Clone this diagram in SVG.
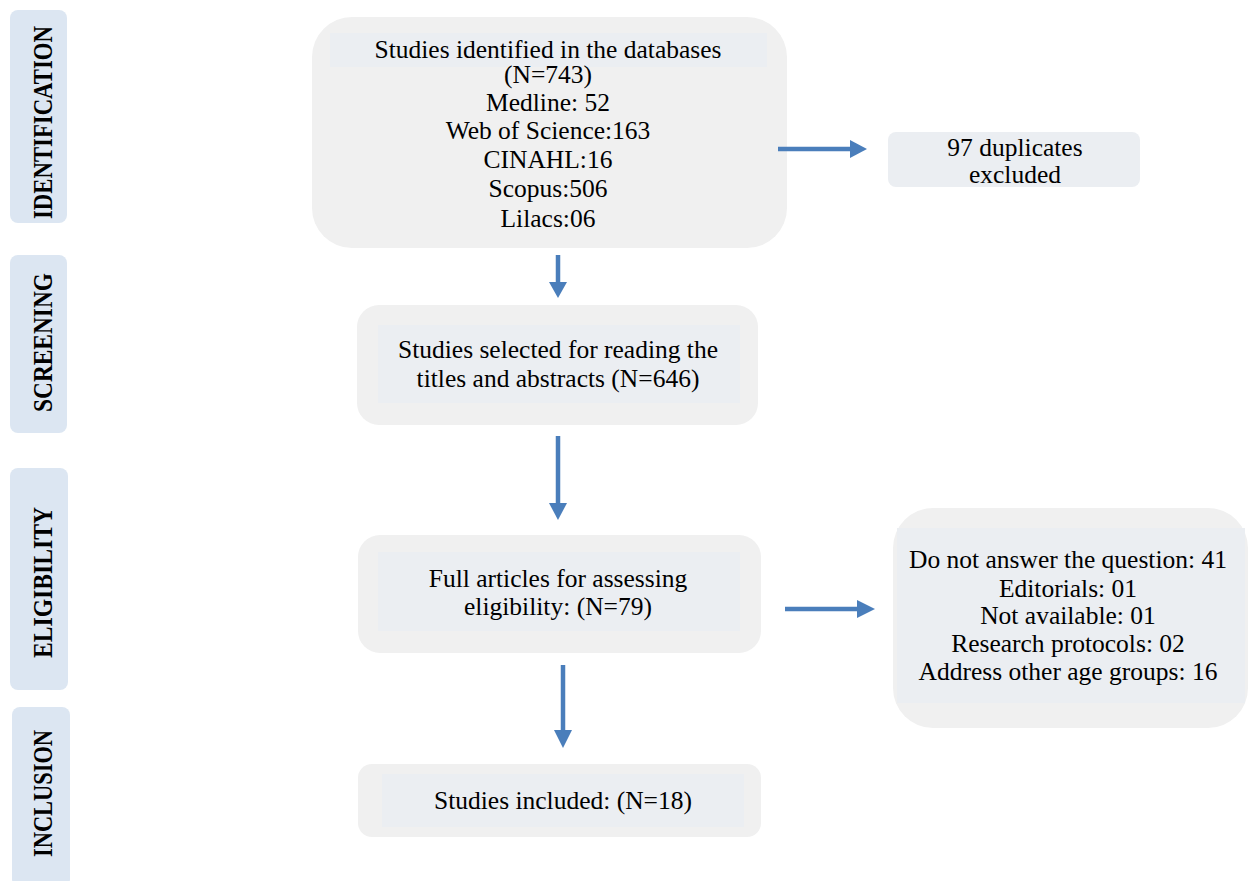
<svg xmlns="http://www.w3.org/2000/svg" width="1249" height="881" viewBox="0 0 1249 881">
<style>
.phase{fill:#dce6f2;}
.phtxt{font-family:"Liberation Serif","Times New Roman",Times,serif;font-weight:bold;font-size:28px;fill:#000;}
.outer{fill:#f0f0f0;}
.inner{fill:#ebeef2;}
.t{font-family:"Liberation Serif","Times New Roman",Times,serif;font-size:25.5px;fill:#000;text-anchor:middle;}
.conn{stroke:#4a7ebb;stroke-width:4.5;fill:none;}
.head{fill:#4a7ebb;}
</style>
<rect width="1249" height="881" fill="#fff"/>
<g id="phase-identification">
<rect class="phase" x="10" y="10" width="57" height="213" rx="8"/>
<text class="phtxt" transform="translate(52,219) rotate(-90)" textLength="193" lengthAdjust="spacingAndGlyphs">IDENTIFICATION</text>
</g>
<g id="phase-screening">
<rect class="phase" x="10" y="255" width="57" height="178" rx="8"/>
<text class="phtxt" transform="translate(52,412) rotate(-90)" textLength="139" lengthAdjust="spacingAndGlyphs">SCREENING</text>
</g>
<g id="phase-eligibility">
<rect class="phase" x="10" y="468" width="58" height="222" rx="8"/>
<text class="phtxt" transform="translate(52,658) rotate(-90)" textLength="151" lengthAdjust="spacingAndGlyphs">ELIGIBILITY</text>
</g>
<g id="phase-inclusion">
<rect class="phase" x="12" y="707" width="58" height="180" rx="8"/>
<text class="phtxt" transform="translate(52,857) rotate(-90)" textLength="127" lengthAdjust="spacingAndGlyphs">INCLUSION</text>
</g>
<g id="identified">
<rect class="outer" x="312" y="17" width="475" height="231" rx="40"/>
<rect class="inner" x="330" y="33" width="437" height="34"/>
<text class="t" x="548" y="58">Studies identified in the databases</text>
<text class="t" x="548" y="83">(N=743)</text>
<text class="t" x="548" y="111">Medline: 52</text>
<text class="t" x="548" y="139">Web of Science:163</text>
<text class="t" x="548" y="168">CINAHL:16</text>
<text class="t" x="548" y="197">Scopus:506</text>
<text class="t" x="548" y="227">Lilacs:06</text>
</g>
<g id="duplicates">
<rect class="inner" x="888" y="132" width="252" height="55" rx="8"/>
<text class="t" x="1015" y="156">97 duplicates</text>
<text class="t" x="1015" y="183">excluded</text>
</g>
<g id="screened">
<rect class="outer" x="357" y="305" width="401" height="120" rx="22"/>
<rect class="inner" x="378" y="325" width="362" height="78"/>
<text class="t" x="558" y="358">Studies selected for reading the</text>
<text class="t" x="558" y="387">titles and abstracts (N=646)</text>
</g>
<g id="eligible">
<rect class="outer" x="358" y="535" width="403" height="118" rx="22"/>
<rect class="inner" x="378" y="552" width="362" height="79"/>
<text class="t" x="558" y="587">Full articles for assessing</text>
<text class="t" x="558" y="615">eligibility: (N=79)</text>
</g>
<g id="excluded">
<rect class="outer" x="893" y="508" width="355" height="220" rx="40"/>
<rect class="inner" x="897" y="528" width="348" height="175"/>
<text class="t" x="1068" y="568">Do not answer the question: 41</text>
<text class="t" x="1068" y="597">Editorials: 01</text>
<text class="t" x="1068" y="624">Not available: 01</text>
<text class="t" x="1068" y="652">Research protocols: 02</text>
<text class="t" x="1068" y="680">Address other age groups: 16</text>
</g>
<g id="included">
<rect class="outer" x="358" y="764" width="403" height="73" rx="14"/>
<rect class="inner" x="382" y="774" width="362" height="53"/>
<text class="t" x="563" y="809">Studies included: (N=18)</text>
</g>
<g id="connectors">
<line class="conn" x1="778" y1="149" x2="852" y2="149"/>
<polygon class="head" points="850,140 867,149 850,158"/>
<line class="conn" x1="558" y1="255" x2="558" y2="284"/>
<polygon class="head" points="549,282 567,282 558,298"/>
<line class="conn" x1="558" y1="436" x2="558" y2="505"/>
<polygon class="head" points="549,503 567,503 558,520"/>
<line class="conn" x1="563" y1="665" x2="563" y2="732"/>
<polygon class="head" points="554,730 572,730 563,748"/>
<line class="conn" x1="785" y1="609" x2="859" y2="609"/>
<polygon class="head" points="857,600 875,609 857,618"/>
</g>
</svg>
